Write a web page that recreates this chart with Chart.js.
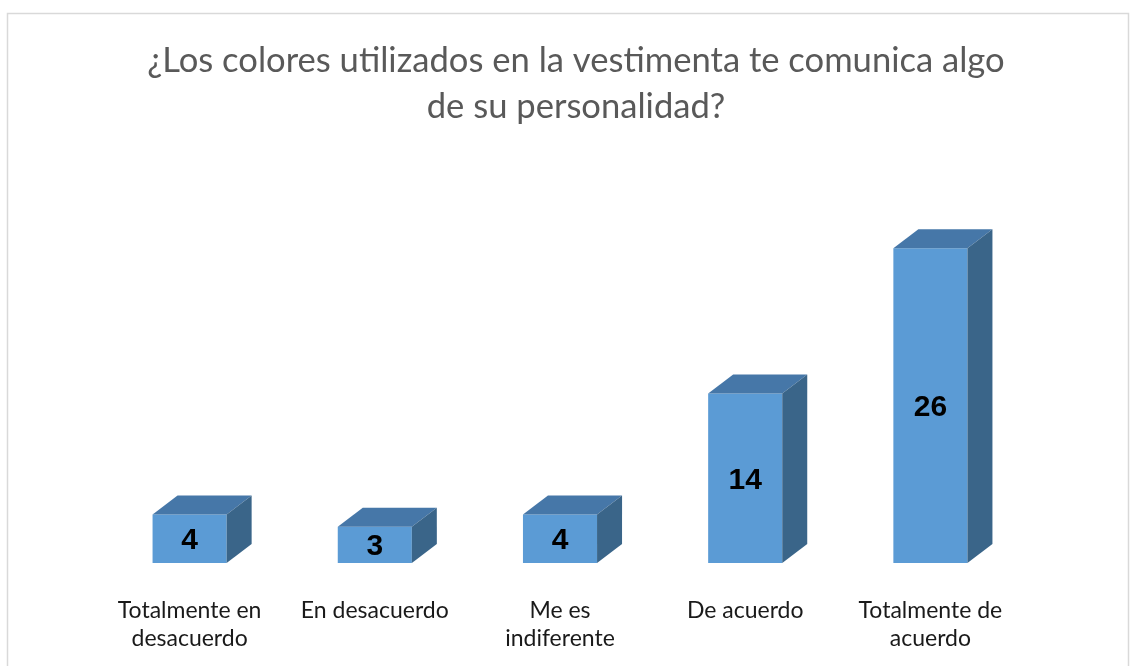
<!DOCTYPE html>
<html>
<head>
<meta charset="utf-8">
<script src="https://cdn.jsdelivr.net/npm/chart.js@4/dist/chart.umd.min.js"></script>
<style>
  html, body { margin: 0; padding: 0; background: #fff; }
  #wrap { width: 1130px; height: 666px; position: relative; }
</style>
</head>
<body>
<div id="wrap"><canvas id="chart"></canvas></div>
<script>
const categories = [
  ['Totalmente en', 'desacuerdo'],
  'En desacuerdo',
  ['Me es', 'indiferente'],
  'De acuerdo',
  ['Totalmente de', 'acuerdo']
];
const respuestas = [4, 3, 4, 14, 26];
const titleLines = ['¿Los colores utilizados en la vestimenta te comunica algo', 'de su personalidad?'];

const FRONT = '#5B9BD5';
const TOP = '#4677A8';
const SIDE = '#3A6589';
const DEPTH_X = 25;
const DEPTH_Y = 19;

// outer frame and the two-line heading
const frame = {
  id: 'frame',
  beforeDraw(chart) {
    const { ctx } = chart;
    ctx.save();
    ctx.strokeStyle = '#d9d9d9';
    ctx.lineWidth = 1.5;
    ctx.strokeRect(7.5, 13.5, 1121, 700);
    ctx.fillStyle = '#595959';
    ctx.font = '34.6px Lato, "Open Sans", sans-serif';
    ctx.textAlign = 'center';
    ctx.textBaseline = 'middle';
    titleLines.forEach((line, i) => ctx.fillText(line, 576, 61 + i * 46));
    ctx.restore();
  }
};

// top and right faces so the bars look like boxes
const boxes = {
  id: 'boxes',
  afterDatasetsDraw(chart) {
    const { ctx } = chart;
    chart.getDatasetMeta(0).data.forEach(bar => {
      const l = bar.x - bar.width / 2;
      const r = bar.x + bar.width / 2;
      const t = bar.y;
      const b = bar.base;
      ctx.save();
      ctx.fillStyle = TOP;
      ctx.beginPath();
      ctx.moveTo(l, t);
      ctx.lineTo(l + DEPTH_X, t - DEPTH_Y);
      ctx.lineTo(r + DEPTH_X, t - DEPTH_Y);
      ctx.lineTo(r, t);
      ctx.closePath();
      ctx.fill();
      ctx.fillStyle = SIDE;
      ctx.beginPath();
      ctx.moveTo(r, t);
      ctx.lineTo(r + DEPTH_X, t - DEPTH_Y);
      ctx.lineTo(r + DEPTH_X, b - DEPTH_Y);
      ctx.lineTo(r, b);
      ctx.closePath();
      ctx.fill();
      ctx.restore();
    });
  }
};

// value printed in the middle of each front face
const valueLabels = {
  id: 'valueLabels',
  afterDatasetsDraw(chart) {
    const { ctx } = chart;
    const values = chart.data.datasets[0].data;
    ctx.save();
    ctx.font = 'bold 30px "Liberation Sans", Arial, sans-serif';
    ctx.fillStyle = '#000';
    ctx.textAlign = 'center';
    ctx.textBaseline = 'middle';
    chart.getDatasetMeta(0).data.forEach((bar, i) => {
      ctx.fillText(String(values[i]), bar.x, (bar.y + bar.base) / 2 + 2);
    });
    ctx.restore();
  }
};

new Chart(document.getElementById('chart'), {
  type: 'bar',
  data: {
    labels: categories,
    datasets: [{
      data: respuestas,
      backgroundColor: FRONT,
      borderWidth: 0,
      categoryPercentage: 1,
      barPercentage: 0.4
    }]
  },
  options: {
    responsive: true,
    maintainAspectRatio: false,
    animation: false,
    layout: { padding: { left: 97, right: 107, top: 224, bottom: 0 } },
    scales: {
      x: {
        grid: { display: false },
        border: { display: false },
        afterFit(scale) { scale.height = 103; },
        ticks: {
          maxRotation: 0,
          autoSkip: false,
          padding: 26,
          color: '#1a1a1a',
          font: { family: 'Lato, "Open Sans", sans-serif', size: 23, lineHeight: 1.2 }
        }
      },
      y: {
        display: false,
        min: 0,
        max: 28
      }
    },
    plugins: {
      legend: { display: false },
      tooltip: { enabled: false },
      title: { display: false }
    }
  },
  plugins: [frame, boxes, valueLabels]
});
</script>
</body>
</html>
